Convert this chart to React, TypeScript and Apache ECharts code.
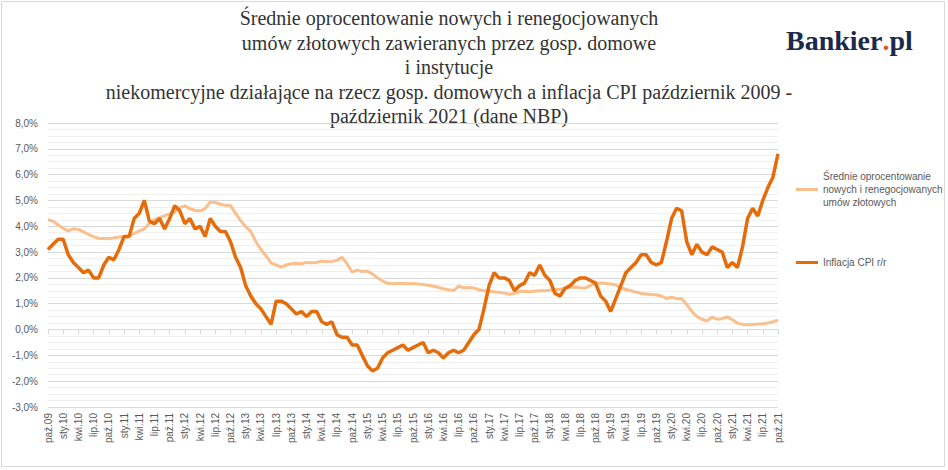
import React, { useEffect, useRef } from 'react';
import * as echarts from 'echarts';

// miesiące od paź.09 do paź.21
const monthNames = ['sty', 'lut', 'mar', 'kwi', 'maj', 'cze', 'lip', 'sie', 'wrz', 'paź', 'lis', 'gru'];
const categories: string[] = [];
for (let y = 2009; y <= 2021; y++) {
  for (let m = 0; m < 12; m++) {
    if (y === 2009 && m < 9) continue;
    if (y === 2021 && m > 9) continue;
    categories.push(monthNames[m] + '.' + String(y).slice(2));
  }
}

const rateName = 'Średnie oprocentowanie nowych i renegocjowanych umów złotowych';
const cpiName = 'Inflacja CPI r/r';

// średnie oprocentowanie (odczyt z wykresu)
const rateValues = [
  4.25, 4.2, 4.05, 3.92, 3.82, 3.9, 3.88, 3.78, 3.68, 3.6, 3.53, 3.53,
  3.52, 3.55, 3.58, 3.6, 3.62, 3.72, 3.82, 3.9, 4.12, 4.25, 4.34, 4.4,
  4.48, 4.55, 4.72, 4.79, 4.68, 4.61, 4.6, 4.68, 4.94, 4.92, 4.85, 4.81,
  4.8, 4.5, 4.22, 3.98, 3.8, 3.4, 3.1, 2.85, 2.58, 2.5, 2.42, 2.5,
  2.55, 2.56, 2.55, 2.6, 2.59, 2.6, 2.65, 2.63, 2.64, 2.68, 2.8, 2.55,
  2.22, 2.3, 2.25, 2.27, 2.15, 2.0, 1.88, 1.79, 1.77, 1.78, 1.78, 1.77,
  1.77, 1.76, 1.74, 1.72, 1.68, 1.64, 1.58, 1.54, 1.51, 1.68, 1.62, 1.63,
  1.61, 1.54, 1.5, 1.48, 1.46, 1.44, 1.41, 1.37, 1.4, 1.47, 1.48, 1.46,
  1.48, 1.5, 1.5, 1.52, 1.54, 1.56, 1.6, 1.64, 1.65, 1.62, 1.61, 1.7,
  1.78, 1.8, 1.78, 1.76, 1.73, 1.62, 1.55, 1.5, 1.45, 1.4, 1.38, 1.36,
  1.35, 1.3, 1.2, 1.25, 1.2, 1.19, 0.97, 0.7, 0.5, 0.4, 0.33, 0.48,
  0.4, 0.42, 0.49, 0.38, 0.25, 0.2, 0.19, 0.2, 0.21, 0.22, 0.25, 0.3,
  0.36,
];

// inflacja CPI r/r
const cpiValues = [
  3.1, 3.3, 3.5,
  3.5, 2.9, 2.6, 2.4, 2.2, 2.3, 2.0, 2.0, 2.5, 2.8, 2.7, 3.1,
  3.6, 3.6, 4.3, 4.5, 5.0, 4.2, 4.1, 4.3, 3.9, 4.3, 4.8, 4.6,
  4.1, 4.3, 3.9, 4.0, 3.6, 4.3, 4.0, 3.8, 3.8, 3.4, 2.8, 2.4,
  1.7, 1.3, 1.0, 0.8, 0.5, 0.2, 1.1, 1.1, 1.0, 0.8, 0.6, 0.7,
  0.5, 0.7, 0.7, 0.3, 0.2, 0.3, -0.2, -0.3, -0.3, -0.6, -0.6, -1.0,
  -1.4, -1.6, -1.5, -1.1, -0.9, -0.8, -0.7, -0.6, -0.8, -0.7, -0.6, -0.5,
  -0.9, -0.8, -0.9, -1.1, -0.9, -0.8, -0.9, -0.8, -0.5, -0.2, 0.0, 0.8,
  1.7, 2.2, 2.0, 2.0, 1.9, 1.5, 1.7, 1.8, 2.2, 2.1, 2.5, 2.1,
  1.9, 1.4, 1.3, 1.6, 1.7, 1.9, 2.0, 2.0, 1.9, 1.8, 1.3, 1.1,
  0.7, 1.2, 1.7, 2.2, 2.4, 2.6, 2.9, 2.9, 2.6, 2.5, 2.6, 3.4,
  4.3, 4.7, 4.6, 3.4, 2.9, 3.3, 3.0, 2.9, 3.2, 3.1, 3.0, 2.4,
  2.6, 2.4, 3.2, 4.3, 4.7, 4.4, 5.0, 5.5, 5.9, 6.8,
];

const titleLines = [
  'Średnie oprocentowanie nowych i renegocjowanych',
  'umów złotowych zawieranych przez gosp. domowe',
  'i instytucje',
  'niekomercyjne działające na rzecz gosp. domowych a inflacja CPI październik 2009 -',
  'październik 2021 (dane NBP)',
];

const App: React.FC = () => {
  const chartRef = useRef<HTMLDivElement>(null);

  useEffect(() => {
    document.body.style.margin = '0';
    if (!chartRef.current) return;
    const chart = echarts.init(chartRef.current, undefined, { renderer: 'svg' });

    const option: echarts.EChartsOption = {
      animation: false,
      backgroundColor: '#fff',
      textStyle: { fontFamily: 'Liberation Sans' },
      graphic: [
        {
          type: 'rect',
          shape: { x: 1.5, y: 1.5, width: 943, height: 465 },
          style: { fill: 'none', stroke: '#d9d9d9', lineWidth: 1 },
          silent: true,
        },
        {
          type: 'text',
          x: 449,
          y: 6,
          style: {
            text: titleLines.join('\n'),
            fontFamily: 'Liberation Serif',
            fontSize: 20,
            lineHeight: 24.5,
            fill: '#333',
            align: 'center',
            verticalAlign: 'top',
          },
        },
        {
          type: 'text',
          x: 786,
          y: 54,
          style: {
            text: '{a|Bankier}{d|.}{a|pl}',
            verticalAlign: 'bottom',
            rich: {
              a: { fontFamily: 'Liberation Serif', fontWeight: 'bold', fontSize: 28, fill: '#1b2a4a' },
              d: { fontFamily: 'Liberation Serif', fontWeight: 'bold', fontSize: 28, fill: '#e8541e' },
            },
          },
        },
      ],
      legend: {
        orient: 'vertical',
        left: 791,
        top: 152,
        itemGap: 34,
        itemWidth: 22,
        itemHeight: 3,
        icon: 'rect',
        textStyle: { fontSize: 10, color: '#595959', lineHeight: 13 },
        formatter: (name: string) =>
          name === rateName ? 'Średnie oprocentowanie\nnowych i renegocjowanych\numów złotowych' : name,
        data: [
          { name: rateName, textStyle: { padding: [26, 0, 0, 0] } },
          { name: cpiName },
        ],
        selectedMode: false,
      },
      grid: { left: 48, right: 170, top: 123, bottom: 63, containLabel: false, outerBoundsMode: 'none' } as any,
      xAxis: {
        type: 'category',
        data: categories,
        boundaryGap: false,
        axisLine: { onZero: true, lineStyle: { color: '#d9d9d9', width: 1 } },
        axisTick: { interval: 2, length: 5, lineStyle: { color: '#d9d9d9' } },
        axisLabel: {
          interval: 2,
          rotate: 90,
          margin: 6,
          fontSize: 10,
          color: '#595959',
        },
        splitLine: { show: false },
      },
      yAxis: {
        type: 'value',
        min: -3,
        max: 8,
        interval: 1,
        axisLine: { show: false },
        axisTick: { show: false },
        axisLabel: {
          fontSize: 10,
          color: '#595959',
          margin: 10,
          formatter: (v: number) => v.toFixed(1).replace('.', ',') + '%',
        },
        splitLine: { lineStyle: { color: '#d9d9d9', width: 1 } },
        minorTick: { show: false, splitNumber: 4 },
        minorSplitLine: { show: true, lineStyle: { color: '#f0f0f0', width: 1 } },
      },
      series: [
        {
          name: rateName,
          type: 'line',
          data: rateValues,
          symbol: 'none',
          lineStyle: { color: '#fabf8c', width: 3 },
          itemStyle: { color: '#fabf8c' },
        },
        {
          name: cpiName,
          type: 'line',
          data: cpiValues,
          symbol: 'none',
          lineStyle: { color: '#e46c0a', width: 3.5 },
          itemStyle: { color: '#e46c0a' },
        },
      ],
    };

    chart.setOption(option);
    return () => chart.dispose();
  }, []);

  return <div ref={chartRef} style={{ width: 948, height: 470 }} />;
};

export default App;
